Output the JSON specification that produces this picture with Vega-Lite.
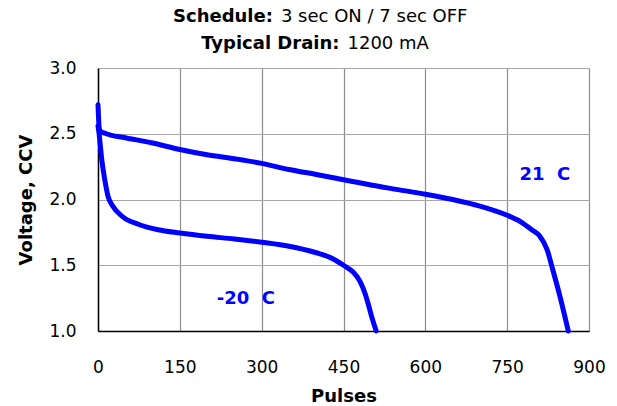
{
  "$schema": "https://vega.github.io/schema/vega-lite/v6.json",
  "autosize": {"type": "none"},
  "width": 491,
  "height": 263,
  "padding": {"left": 98, "top": 68, "right": 28, "bottom": 75},
  "background": "white",
  "config": {
    "font": "DejaVu Sans",
    "view": {"stroke": null},
    "axis": {
      "labelFont": "DejaVu Sans",
      "labelFontSize": 17,
      "labelColor": "#000000",
      "titleFont": "DejaVu Sans",
      "titleFontSize": 18,
      "titleFontWeight": "bold",
      "titleColor": "#000000",
      "ticks": false,
      "labelFlush": false,
      "domainColor": "#000000",
      "domainWidth": 1.5,
      "gridOpacity": 1,
      "gridWidth": 1.2
    }
  },
  "datasets": {
    "curves": [
      {"series": "21 C", "pulses": 0, "voltage": 2.72},
      {"series": "21 C", "pulses": 1, "voltage": 2.62},
      {"series": "21 C", "pulses": 2, "voltage": 2.55},
      {"series": "21 C", "pulses": 4, "voltage": 2.52},
      {"series": "21 C", "pulses": 15, "voltage": 2.5},
      {"series": "21 C", "pulses": 50, "voltage": 2.47},
      {"series": "21 C", "pulses": 100, "voltage": 2.43},
      {"series": "21 C", "pulses": 150, "voltage": 2.38},
      {"series": "21 C", "pulses": 200, "voltage": 2.34},
      {"series": "21 C", "pulses": 250, "voltage": 2.31},
      {"series": "21 C", "pulses": 300, "voltage": 2.275},
      {"series": "21 C", "pulses": 350, "voltage": 2.228},
      {"series": "21 C", "pulses": 400, "voltage": 2.19},
      {"series": "21 C", "pulses": 450, "voltage": 2.15},
      {"series": "21 C", "pulses": 500, "voltage": 2.11},
      {"series": "21 C", "pulses": 550, "voltage": 2.075},
      {"series": "21 C", "pulses": 600, "voltage": 2.04},
      {"series": "21 C", "pulses": 650, "voltage": 2.0},
      {"series": "21 C", "pulses": 700, "voltage": 1.95},
      {"series": "21 C", "pulses": 750, "voltage": 1.88},
      {"series": "21 C", "pulses": 775, "voltage": 1.83},
      {"series": "21 C", "pulses": 795, "voltage": 1.77},
      {"series": "21 C", "pulses": 810, "voltage": 1.72},
      {"series": "21 C", "pulses": 823, "voltage": 1.62},
      {"series": "21 C", "pulses": 834, "voltage": 1.46},
      {"series": "21 C", "pulses": 847, "voltage": 1.26},
      {"series": "21 C", "pulses": 862, "voltage": 1.0},
      {"series": "-20 C", "pulses": 0, "voltage": 2.56},
      {"series": "-20 C", "pulses": 2, "voltage": 2.5},
      {"series": "-20 C", "pulses": 4, "voltage": 2.42},
      {"series": "-20 C", "pulses": 7, "voltage": 2.3},
      {"series": "-20 C", "pulses": 12, "voltage": 2.16},
      {"series": "-20 C", "pulses": 18, "voltage": 2.03},
      {"series": "-20 C", "pulses": 27, "voltage": 1.95},
      {"series": "-20 C", "pulses": 45, "voltage": 1.87},
      {"series": "-20 C", "pulses": 75, "voltage": 1.81},
      {"series": "-20 C", "pulses": 110, "voltage": 1.77},
      {"series": "-20 C", "pulses": 150, "voltage": 1.745},
      {"series": "-20 C", "pulses": 200, "voltage": 1.72},
      {"series": "-20 C", "pulses": 250, "voltage": 1.70},
      {"series": "-20 C", "pulses": 300, "voltage": 1.675},
      {"series": "-20 C", "pulses": 350, "voltage": 1.645},
      {"series": "-20 C", "pulses": 400, "voltage": 1.595},
      {"series": "-20 C", "pulses": 425, "voltage": 1.56},
      {"series": "-20 C", "pulses": 450, "voltage": 1.5},
      {"series": "-20 C", "pulses": 467, "voltage": 1.45},
      {"series": "-20 C", "pulses": 480, "voltage": 1.38},
      {"series": "-20 C", "pulses": 490, "voltage": 1.28},
      {"series": "-20 C", "pulses": 497, "voltage": 1.18},
      {"series": "-20 C", "pulses": 503, "voltage": 1.09},
      {"series": "-20 C", "pulses": 510, "voltage": 1.0}
    ],
    "labels": [
      {"label": "21\u00a0\u00a0C", "pulses": 819, "voltage": 2.19},
      {"label": "-20\u00a0\u00a0C", "pulses": 271, "voltage": 1.24}
    ],
    "heading": [
      {"line": 1, "key": "Schedule:", "value": "3 sec ON / 7 sec OFF", "pulses": 328, "voltage": 3.39},
      {"line": 2, "key": "Typical Drain:", "value": "1200 mA", "pulses": 450, "voltage": 3.185}
    ]
  },
  "layer": [
    {
      "data": {"name": "curves"},
      "mark": {"type": "line", "color": "#0000ff", "strokeWidth": 5, "interpolate": "monotone", "strokeCap": "round"},
      "encoding": {
        "x": {
          "field": "pulses", "type": "quantitative",
          "scale": {"domain": [0, 900], "nice": false},
          "axis": {"title": "Pulses", "values": [0, 150, 300, 450, 600, 750, 900], "labelPadding": 28, "titlePadding": 12, "gridColor": "#8c8c8c"}
        },
        "y": {
          "field": "voltage", "type": "quantitative",
          "scale": {"domain": [1, 3], "nice": false, "zero": false},
          "axis": {"title": "Voltage, CCV", "values": [1, 1.5, 2, 2.5, 3], "format": ".1f", "labelPadding": 22, "titlePadding": 13, "gridColor": "#a6a6a6"}
        },
        "detail": {"field": "series"}
      }
    },
    {
      "data": {"name": "labels"},
      "mark": {"type": "text", "color": "#0000ff", "fontSize": 18, "fontWeight": "bold", "font": "DejaVu Sans"},
      "encoding": {
        "x": {"field": "pulses", "type": "quantitative"},
        "y": {"field": "voltage", "type": "quantitative"},
        "text": {"field": "label"}
      }
    },
    {
      "data": {"name": "heading"},
      "mark": {"type": "text", "fontSize": 18, "fontWeight": "bold", "align": "right", "dx": -4, "color": "#000000"},
      "encoding": {"x": {"field": "pulses", "type": "quantitative"}, "y": {"field": "voltage", "type": "quantitative"}, "text": {"field": "key"}}
    },
    {
      "data": {"name": "heading"},
      "mark": {"type": "text", "fontSize": 18, "fontWeight": "normal", "align": "left", "dx": 4, "color": "#000000"},
      "encoding": {"x": {"field": "pulses", "type": "quantitative"}, "y": {"field": "voltage", "type": "quantitative"}, "text": {"field": "value"}}
    }
  ]
}
